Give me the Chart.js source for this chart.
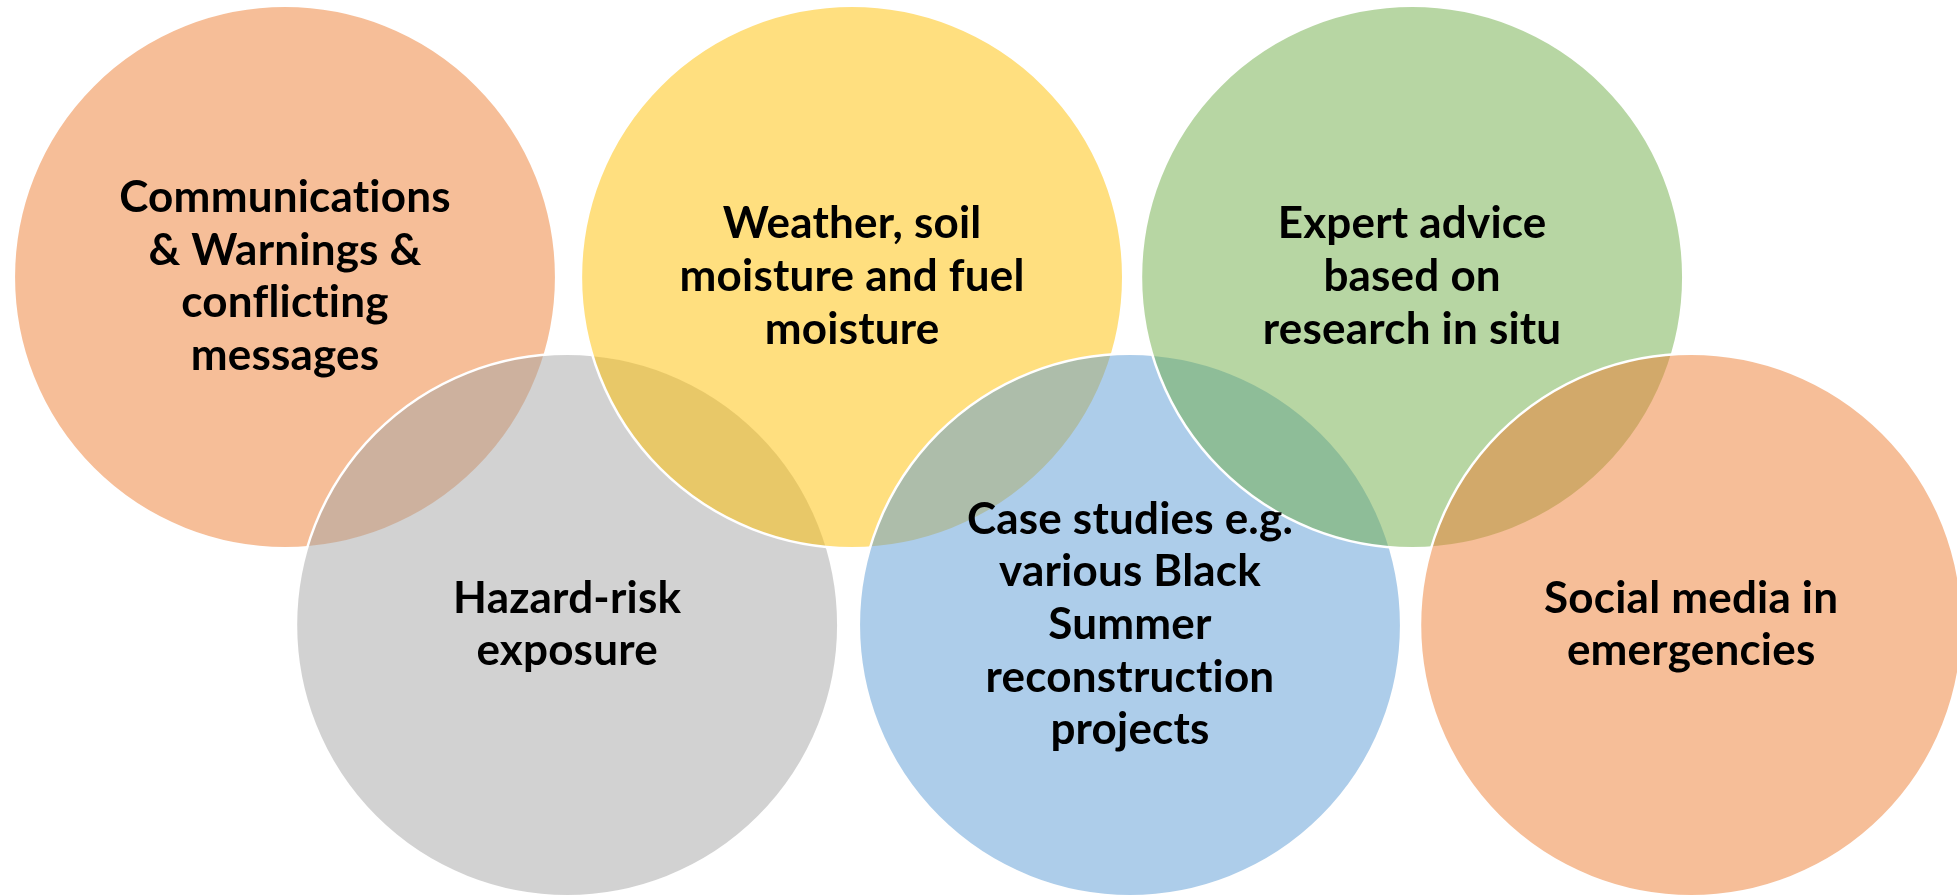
<!DOCTYPE html>
<html>
<head>
<meta charset="utf-8">
<script src="https://cdn.jsdelivr.net/npm/chart.js@4/dist/chart.umd.min.js"></script>
<style>
  html, body { margin: 0; padding: 0; background: #ffffff; overflow: hidden; }
  #wrap { width: 1957px; height: 895px; }
</style>
</head>
<body>
<div id="wrap"><canvas id="c" width="1957" height="895"></canvas></div>
<script>
// ---- data (diagram units) ----
const topics = [
  ["Communications", "& Warnings &", "conflicting", "messages"],
  ["Weather, soil", "moisture and fuel", "moisture"],
  ["Expert advice", "based on", "research in situ"],
  ["Hazard-risk", "exposure"],
  ["Case studies e.g.", "various Black", "Summer", "reconstruction", "projects"],
  ["Social media in", "emergencies"]
];
const column = [1, 3.018, 5.011, 2.004, 4.007, 6.004]; // half-step grid columns
const row = [1, 1, 1, 2, 2, 2];                         // rows
const size = [0.965, 0.965, 0.965, 0.965, 0.965, 0.965]; // radius in column units
const colors = ["#ED7D31", "#FFC000", "#70AD47", "#A5A5A5", "#5B9BD5", "#ED7D31"];
const drawOrder = [0, 3, 1, 4, 2, 5];   // zig-zag stacking order

function hexA(hex, a) {
  const n = parseInt(hex.slice(1), 16);
  return `rgba(${(n >> 16) & 255},${(n >> 8) & 255},${n & 255},${a})`;
}

const points = drawOrder.map(i => ({ x: column[i], y: row[i], idx: i }));

const labelPlugin = {
  id: 'labels',
  afterDatasetsDraw(chart) {
    const ctx = chart.ctx;
    const meta = chart.getDatasetMeta(0);
    ctx.save();
    ctx.fillStyle = '#000000';
    ctx.textAlign = 'center';
    ctx.textBaseline = 'alphabetic';
    ctx.font = 'bold 44px Lato';
    try { ctx.textRendering = 'optimizeSpeed'; } catch (e) {}
    try { ctx.letterSpacing = '0.2px'; } catch (e) {}
    const lh = 52.7;
    meta.data.forEach((el, k) => {
      const lines = topics[points[k].idx];
      const n = lines.length;
      lines.forEach((t, j) => {
        ctx.fillText(t, el.x, el.y + (j - (n - 1) / 2) * lh + 14);
      });
    });
    ctx.restore();
  }
};

new Chart(document.getElementById('c'), {
  type: 'scatter',
  data: {
    datasets: [{
      data: points.map(p => ({ x: p.x, y: p.y })),
      showLine: false,
      pointBackgroundColor: points.map(p => hexA(colors[p.idx], 0.5)),
      pointBorderColor: '#ffffff',
      pointBorderWidth: 2.5,
      pointRadius: (c) => {
        const s = c.chart.scales.x;
        const p = points[c.dataIndex];
        if (!p || !s) return 0;
        const r = s.getPixelForValue(size[p.idx]) - s.getPixelForValue(0);
        return isFinite(r) ? r : 0;
      },
      pointHoverRadius: 0,
      clip: false
    }]
  },
  options: {
    responsive: false,
    animation: false,
    events: [],
    devicePixelRatio: 1,
    layout: { padding: 0 },
    plugins: { legend: { display: false }, tooltip: { enabled: false } },
    scales: {
      x: { type: 'linear', min: -0.0142, max: 6.95, display: false },
      y: { type: 'linear', min: 0.204, max: 2.776, reverse: true, display: false }
    }
  },
  plugins: [labelPlugin]
});
</script>
</body>
</html>
